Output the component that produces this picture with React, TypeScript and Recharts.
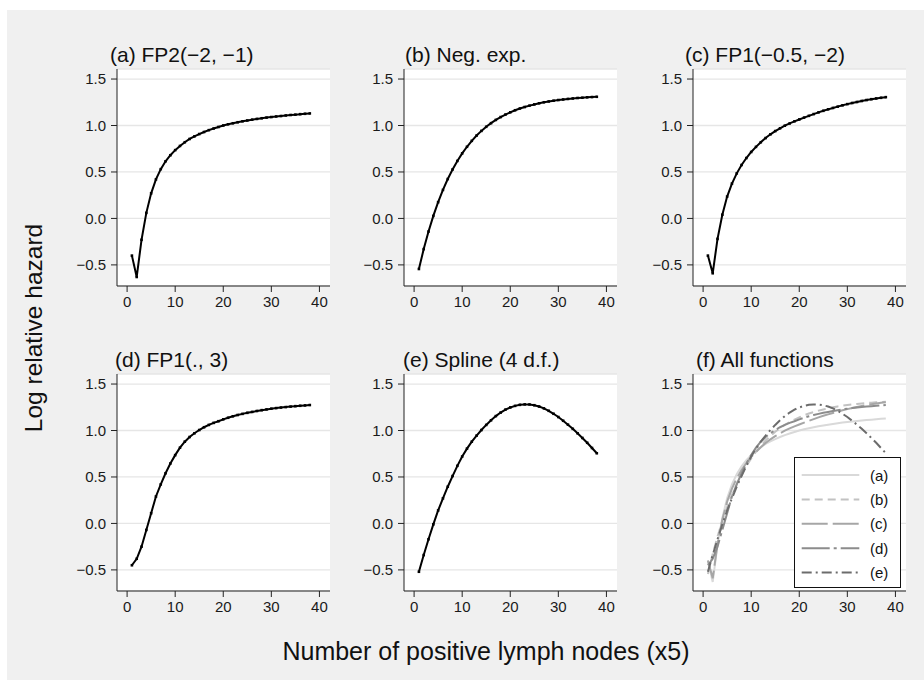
import React from 'react';
import { LineChart, Line, XAxis, YAxis, CartesianGrid, Legend } from 'recharts';

// ---------- data ----------
const nodes = [1, 2, 3, 4, 5, 6, 7, 8, 9, 10, 11, 12, 13, 14, 15, 16, 17, 18, 19, 20,
  21, 22, 23, 24, 25, 26, 27, 28, 29, 30, 31, 32, 33, 34, 35, 36, 37, 38];

const fp2 = [-0.40, -0.63, -0.23, 0.06, 0.27, 0.42, 0.53, 0.615, 0.68, 0.735,
  0.78, 0.82, 0.855, 0.883, 0.908, 0.93, 0.95, 0.968, 0.984, 1.0,
  1.013, 1.024, 1.035, 1.045, 1.054, 1.063, 1.071, 1.078, 1.085, 1.091,
  1.097, 1.102, 1.108, 1.113, 1.117, 1.122, 1.126, 1.13];

const negExp = [-0.544, -0.33, -0.141, 0.027, 0.175, 0.307, 0.424, 0.527, 0.619, 0.70,
  0.771, 0.835, 0.892, 0.942, 0.986, 1.025, 1.06, 1.091, 1.118, 1.142,
  1.164, 1.183, 1.199, 1.214, 1.227, 1.239, 1.25, 1.259, 1.267, 1.274,
  1.28, 1.286, 1.291, 1.296, 1.299, 1.303, 1.306, 1.309];

const fp1c = [-0.40, -0.59, -0.22, 0.04, 0.235, 0.375, 0.485, 0.575, 0.65, 0.715,
  0.77, 0.82, 0.865, 0.905, 0.94, 0.97, 0.998, 1.022, 1.045, 1.065,
  1.085, 1.104, 1.123, 1.141, 1.158, 1.174, 1.189, 1.203, 1.217, 1.23,
  1.242, 1.253, 1.264, 1.274, 1.283, 1.291, 1.298, 1.305];

const fp1d = [-0.45, -0.38, -0.25, -0.07, 0.11, 0.29, 0.42, 0.54, 0.645, 0.735,
  0.815, 0.88, 0.93, 0.97, 1.005, 1.035, 1.06, 1.082, 1.10, 1.12,
  1.137, 1.153, 1.167, 1.179, 1.19, 1.2, 1.21, 1.219, 1.227, 1.235,
  1.241, 1.247, 1.252, 1.257, 1.262, 1.266, 1.27, 1.274];

const spline = [-0.52, -0.34, -0.17, -0.01, 0.14, 0.27, 0.395, 0.51, 0.62, 0.72,
  0.805, 0.88, 0.945, 1.005, 1.06, 1.11, 1.155, 1.193, 1.225, 1.248,
  1.265, 1.276, 1.281, 1.28, 1.272, 1.258, 1.238, 1.212, 1.18, 1.145,
  1.105, 1.063, 1.018, 0.97, 0.92, 0.868, 0.812, 0.755];

const seriesKeys = ['a', 'b', 'c', 'd', 'e'];
const panelTitles = ['(a) FP2(\u22122, \u22121)', '(b) Neg. exp.', '(c) FP1(\u22120.5, \u22122)',
  '(d) FP1(., 3)', '(e) Spline (4 d.f.)', '(f) All functions'];
const legendLabels = ['(a)', '(b)', '(c)', '(d)', '(e)'];
const xTicks = [0, 10, 20, 30, 40];
const yTicks = [-0.5, 0, 0.5, 1, 1.5];
const yTitle = 'Log relative hazard';
const xTitle = 'Number of positive lymph nodes (x5)';

const rows = nodes.map((x, i) => ({
  x, a: fp2[i], b: negExp[i], c: fp1c[i], d: fp1d[i], e: spline[i],
}));

// ---------- styles / layout ----------
const FONT = '"Liberation Sans", Arial, Helvetica, sans-serif';
const TICK_FS = 15;
const W = 285;
const H = 267;
const MARGIN = { top: 10, right: 12, bottom: 0, left: 0 };
const boxLefts = [49.7, 337.3, 625.7];
const boxTops = [49.3, 354.3];
const titleX = [103, 398, 678, 108, 396, 689];
const titleY = [44.3, 349.3];
const allStroke = ['#d9d9d9', '#c2c2c2', '#a6a6a6', '#8c8c8c', '#6c6c6c'];
const allDash = ['', '8 5', '26 5', '28 4 3 4', '10 4 2 4'];

const fmtY = (v: number) => v.toFixed(1).replace('-', '\u2212');

function squareDot(props: any) {
  const { cx, cy, index } = props;
  if (cx == null || cy == null) return <g key={`n${index}`} />;
  return <rect key={`s${index}`} x={cx - 1.3} y={cy - 1.3} width={2.6} height={2.6} fill="#000" />;
}

function LegendBox() {
  return (
    <svg width={107} height={131} style={{ display: 'block' }}>
      <rect x={0.5} y={0.5} width={106} height={130} fill="#fff" stroke="#111" strokeWidth={1} />
      {legendLabels.map((lab, i) => {
        const y = 18 + i * 24.4;
        return (
          <g key={lab}>
            <line x1={7.7} x2={65.3} y1={y} y2={y} stroke={allStroke[i]} strokeWidth={2}
              strokeDasharray={allDash[i] || undefined} />
            <text x={76} y={y} dominantBaseline="central" fontSize={15} fontFamily={FONT} fill="#111">{lab}</text>
          </g>
        );
      })}
    </svg>
  );
}

function renderPanel(idx: number) {
  const col = idx % 3;
  const row = Math.floor(idx / 3);
  const isAll = idx === 5;
  const lines = isAll
    ? seriesKeys.map((k, i) => (
      <Line key={k} type="linear" dataKey={k} stroke={allStroke[i]} strokeWidth={2}
        strokeDasharray={allDash[i] || undefined} dot={false} activeDot={false}
        isAnimationActive={false} />
    ))
    : [
      <Line key={seriesKeys[idx]} type="linear" dataKey={seriesKeys[idx]} stroke="#000" strokeWidth={2}
        dot={squareDot} activeDot={false} isAnimationActive={false} />,
    ];
  return (
    <div key={idx} style={{ position: 'absolute', left: boxLefts[col], top: boxTops[row], width: W, height: H }}>
      <LineChart width={W} height={H} data={rows} margin={MARGIN}>
        <CartesianGrid vertical={false} stroke="#e6e6e6" strokeWidth={1.3} fill="#ffffff" />
        <XAxis dataKey="x" type="number" domain={[-2.1, 42.2]} ticks={xTicks} interval={0}
          allowDataOverflow height={40} tickSize={6} tickMargin={4} fontSize={TICK_FS}
          axisLine={{ stroke: '#222', strokeWidth: 1 }} tickLine={{ stroke: '#222', strokeWidth: 1 }}
          tick={{ fill: '#1a1a1a', fontSize: TICK_FS, fontFamily: FONT }} />
        <YAxis type="number" domain={[-0.727, 1.608]} ticks={yTicks} interval={0}
          allowDataOverflow width={60} tickSize={6} tickMargin={5} tickFormatter={fmtY} fontSize={TICK_FS}
          axisLine={{ stroke: '#222', strokeWidth: 1 }} tickLine={{ stroke: '#222', strokeWidth: 1 }}
          tick={{ fill: '#1a1a1a', fontSize: TICK_FS, fontFamily: FONT }} />
        {lines}
        {isAll ? (
          <Legend layout="vertical" align="center" verticalAlign="middle"
            wrapperStyle={{ left: 161.3, top: 92.7, width: 107, height: 131 }}
            content={() => <LegendBox />} />
        ) : null}
      </LineChart>
    </div>
  );
}

export default function App() {
  return (
    <div style={{
      position: 'absolute', left: 7, top: 10, width: 917, height: 670,
      background: '#f0f0f0', overflow: 'hidden', fontFamily: FONT,
    }}>
      {[0, 1, 2, 3, 4, 5].map((i) => renderPanel(i))}
      <svg width={917} height={670} style={{ position: 'absolute', left: 0, top: 0, pointerEvents: 'none' }}>
        {panelTitles.map((t, i) => (
          <text key={t} x={titleX[i]} y={titleY[Math.floor(i / 3)]} dominantBaseline="central"
            fontSize={21} fontFamily={FONT} fill="#111">{t}</text>
        ))}
        <text x={26} y={318} transform="rotate(-90 26 318)" textAnchor="middle" dominantBaseline="central"
          fontSize={24.5} fontFamily={FONT} fill="#111">{yTitle}</text>
        <text x={479} y={641} textAnchor="middle" dominantBaseline="central"
          fontSize={25} fontFamily={FONT} fill="#111">{xTitle}</text>
      </svg>
    </div>
  );
}
